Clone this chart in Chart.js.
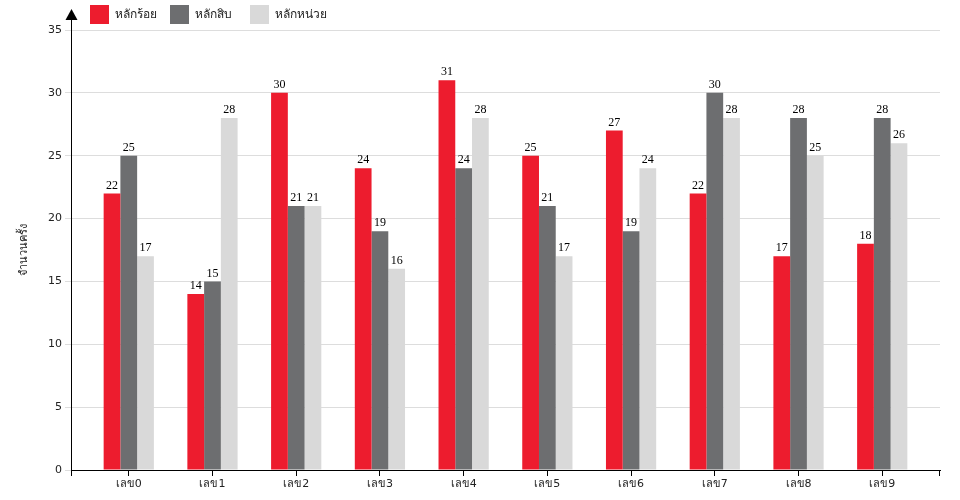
<!DOCTYPE html>
<html>
<head>
<meta charset="utf-8">
<script src="https://cdn.jsdelivr.net/npm/chart.js@4"></script>
<style>
html,body{margin:0;padding:0;background:#fff;}
#wrap{width:960px;height:500px;position:relative;}
</style>
</head>
<body>
<div id="wrap"><canvas id="c" width="960" height="500"></canvas></div>
<script>
const categories = ['เลข0','เลข1','เลข2','เลข3','เลข4','เลข5','เลข6','เลข7','เลข8','เลข9'];
const seriesNames = ['หลักร้อย','หลักสิบ','หลักหน่วย'];
const hundreds = [22,14,30,24,31,25,27,22,17,18];
const tens = [25,15,21,19,24,21,19,30,28,28];
const units = [17,28,21,16,28,17,24,28,25,26];
const yTicks = [0,5,10,15,20,25,30,35];
const yTitle = 'จำนวนครั้ง';
const colors = ['#ED1C2E','#6D6E70','#D9D9D9'];

const sans = '"DejaVu Sans", "Noto Sans", sans-serif';
const toPoints = (arr) => arr.map((v, i) => ({x: i, y: v}));

const extras = {
  id: 'extras',
  afterDraw(chart) {
    const ctx = chart.ctx;
    const ca = chart.chartArea;
    ctx.save();
    // data labels
    ctx.font = '12px "Liberation Serif", "DejaVu Serif", serif';
    ctx.fillStyle = '#000';
    ctx.textAlign = 'center';
    ctx.textBaseline = 'bottom';
    chart.data.datasets.forEach((ds, i) => {
      const meta = chart.getDatasetMeta(i);
      meta.data.forEach((bar, j) => {
        ctx.fillText(String(ds.data[j].y), bar.x, bar.y - 2);
      });
    });
    // y axis extension + arrow
    ctx.strokeStyle = '#000';
    ctx.lineWidth = 1;
    ctx.beginPath();
    ctx.moveTo(ca.left + 0.5, ca.top);
    ctx.lineTo(ca.left + 0.5, 18);
    ctx.stroke();
    ctx.fillStyle = '#000';
    ctx.beginPath();
    ctx.moveTo(ca.left + 0.5, 9);
    ctx.lineTo(ca.left - 5.5, 20);
    ctx.lineTo(ca.left + 6.5, 20);
    ctx.closePath();
    ctx.fill();
    // end ticks on x axis
    ctx.beginPath();
    ctx.moveTo(ca.left + 0.5, ca.bottom);
    ctx.lineTo(ca.left + 0.5, ca.bottom + 6);
    ctx.moveTo(ca.right - 0.5, ca.bottom);
    ctx.lineTo(ca.right - 0.5, ca.bottom + 6);
    ctx.stroke();
    // legend
    ctx.font = '12px ' + sans;
    ctx.textAlign = 'left';
    ctx.textBaseline = 'middle';
    chart.data.datasets.forEach((ds, i) => {
      const x = 90 + i * 80;
      ctx.fillStyle = ds.backgroundColor;
      ctx.fillRect(x, 5, 19, 19);
      ctx.fillStyle = '#222';
      ctx.fillText(ds.label, x + 25, 15);
    });
    ctx.restore();
  }
};

new Chart(document.getElementById('c'), {
  type: 'bar',
  data: {
    datasets: [
      {label: seriesNames[0], data: toPoints(hundreds), backgroundColor: colors[0]},
      {label: seriesNames[1], data: toPoints(tens), backgroundColor: colors[1]},
      {label: seriesNames[2], data: toPoints(units), backgroundColor: colors[2]}
    ]
  },
  options: {
    responsive: false,
    animation: false,
    devicePixelRatio: 1,
    layout: {padding: {top: 30, right: 20, bottom: 0, left: 0}},
    plugins: {legend: {display: false}, tooltip: {enabled: false}},
    datasets: {bar: {categoryPercentage: 0.6, barPercentage: 1}},
    scales: {
      x: {
        type: 'linear',
        min: -0.69, max: 9.69,
        offset: false,
        afterBuildTicks(scale) { scale.ticks = categories.map((c, i) => ({value: i})); },
        grid: {display: true, offset: false, drawOnChartArea: false, drawTicks: true, tickLength: 6, color: '#000'},
        border: {display: true, color: '#000', width: 1},
        ticks: {font: {family: sans, size: 11}, color: '#222', padding: 2, autoSkip: false, maxRotation: 0,
                callback: (v) => categories[v]},
        afterFit(scale) { scale.height = 30; }
      },
      y: {
        min: 0, max: 35,
        afterBuildTicks(scale) { scale.ticks = yTicks.map(v => ({value: v})); },
        grid: {color: '#DDDDDD', drawTicks: true, tickLength: 6, lineWidth: 1},
        border: {display: true, color: '#000', width: 1},
        ticks: {font: {family: sans, size: 11}, color: '#222', padding: 3},
        title: {display: true, text: yTitle, font: {family: sans, size: 11}, color: '#222', padding: {top: 18, bottom: 0}},
        afterFit(scale) { scale.width = 71; }
      }
    }
  },
  plugins: [extras]
});
</script>
</body>
</html>
